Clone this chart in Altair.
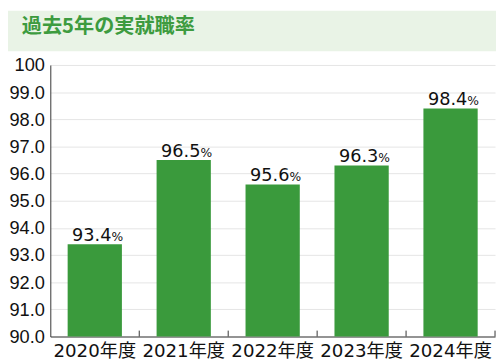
import altair as alt
import pandas as pd

years = ["2020年度", "2021年度", "2022年度", "2023年度", "2024年度"]
rates = [93.4, 96.5, 95.6, 96.3, 98.4]
y_ticks = [90, 91, 92, 93, 94, 95, 96, 97, 98, 99, 100]
title_text = "過去5年の実就職率"

df = pd.DataFrame({
    "year": years,
    "rate": rates,
    "base": [90] * len(years),
    "num": [f"{r:.1f}" for r in rates],
    "pct": ["%"] * len(years),
})

W, H = 452, 276
FONT = "DejaVu Sans, Noto Sans CJK JP"
YFONT = "Liberation Sans"
GREEN = "#3a9a3c"
AXIS = "#333333"

x_axis = alt.Axis(title=None, labelAngle=0, labelFont=FONT, labelFontSize=18.5,
                  labelColor="#111111", ticks=False, domainColor=AXIS,
                  labelPadding=5, grid=False, labelOverlap=False)
x_scale = alt.Scale(paddingInner=0, paddingOuter=0)
x = alt.X("year:N", sort=years, scale=x_scale, axis=x_axis)
y = alt.Y(
    "rate:Q",
    scale=alt.Scale(domain=[90, 100], nice=False, zero=False),
    axis=alt.Axis(title=None, values=y_ticks, tickCount=11,
                  labelExpr="datum.value == 100 ? '100' : format(datum.value, '.1f')",
                  labelFont=YFONT, labelFontSize=18.5, labelColor="#111111",
                  ticks=False, domainColor=AXIS, labelPadding=6,
                  labelOverlap=False, labelBound=False,
                  grid=True, gridColor="#e4e4e4"),
)

base = alt.Chart(df)

band = alt.Chart(pd.DataFrame({"t": [title_text]})).mark_rect(color="#e9f3e6").encode(
    x=alt.value(-43), x2=alt.value(W + 1), y=alt.value(-55), y2=alt.value(-14)
)
title = alt.Chart(pd.DataFrame({"t": [title_text]})).mark_text(
    align="left", baseline="middle", font="Noto Sans CJK JP", fontSize=20.5,
    fontWeight="bold", color="#3d9b3f"
).encode(x=alt.value(-29), y=alt.value(-39), text="t:N")

bars = base.mark_bar(width=alt.RelativeBandSize(0.61), color=GREEN).encode(
    x=x, y=y, y2="base:Q"
)
ticks = base.mark_rule(color=AXIS).encode(
    x=alt.X("year:N", sort=years, scale=x_scale, axis=x_axis, bandPosition=1),
    y=alt.value(H - 6), y2=alt.value(H),
)
nums = base.mark_text(align="right", baseline="alphabetic", dx=17, dy=-3,
                      font=FONT, fontSize=18, color="#111111").encode(
    x=x, y=y, text="num:N"
)
pcts = base.mark_text(align="left", baseline="alphabetic", dx=17, dy=-3,
                      font=FONT, fontSize=12.5, color="#111111").encode(
    x=x, y=y, text="pct:N"
)

chart = alt.layer(band, title, bars, ticks, nums, pcts).properties(
    width=W, height=H,
    autosize=alt.AutoSizeParams(type="none"),
    padding={"left": 43, "top": 55, "right": 1, "bottom": 23},
).configure_view(stroke=None)

chart.save("out.html", embed_options={"renderer": "svg", "actions": False})
